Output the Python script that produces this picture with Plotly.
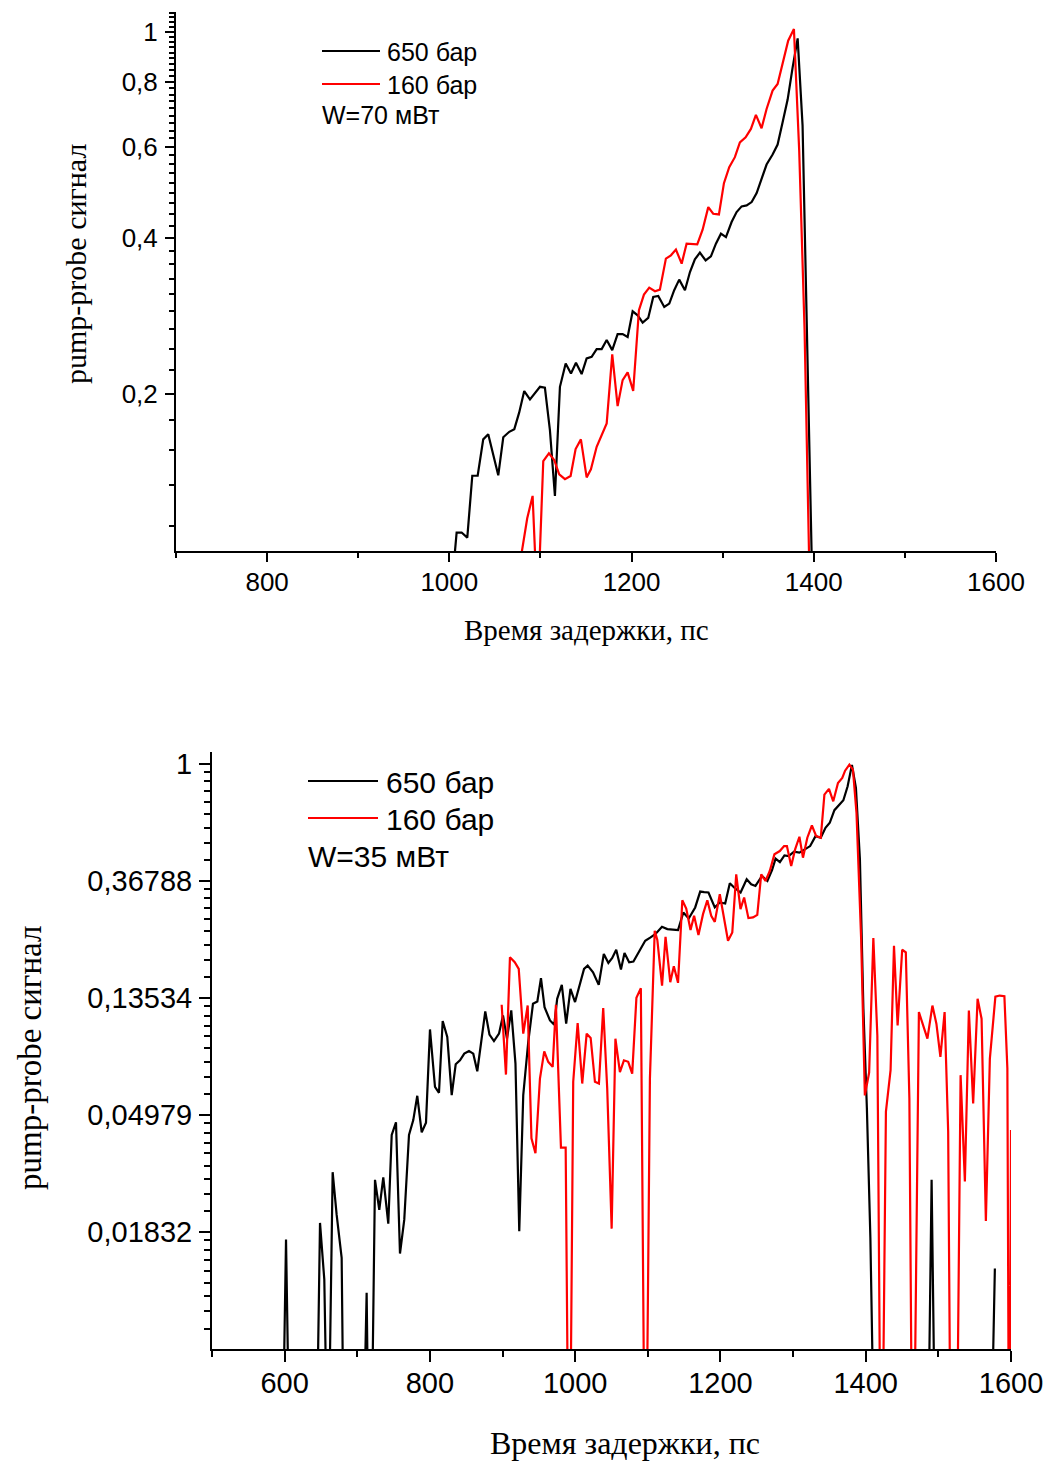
import math
import plotly.graph_objects as go

# ---------------- data: top panel (W = 70 mW) ----------------
t650_x = [1002.0, 1008.0, 1013.5, 1019.7, 1025.2, 1031.1, 1037.2, 1042.7, 1053.7, 1059.2,
          1065.8, 1071.3, 1076.7, 1082.2, 1088.5, 1094.0, 1099.5, 1104.9, 1110.4, 1115.9,
          1121.4, 1127.7, 1133.5, 1139.0, 1145.2, 1150.7, 1156.2, 1161.7, 1167.2, 1172.7,
          1178.8, 1184.7, 1190.2, 1195.7, 1201.2, 1206.7, 1212.2, 1218.3, 1223.8, 1229.3,
          1235.9, 1241.4, 1246.8, 1252.3, 1258.6, 1264.1, 1269.5, 1275.0, 1281.3, 1287.1,
          1292.6, 1298.1, 1303.6, 1309.8, 1315.3, 1320.8, 1326.3, 1331.8, 1337.3, 1342.7,
          1348.2, 1354.8, 1360.3, 1365.8, 1371.3, 1376.8, 1382.3, 1387.7, 1393.2, 1399.4]
t650_y = [0.082, 0.108, 0.108, 0.1056, 0.139, 0.139, 0.1634, 0.1671, 0.1393, 0.1649,
          0.169, 0.171, 0.1842, 0.2025, 0.1952, 0.2004, 0.2064, 0.2055, 0.1703, 0.1271,
          0.2064, 0.2289, 0.219, 0.2296, 0.2184, 0.2341, 0.2358, 0.244, 0.244, 0.254,
          0.2429, 0.2608, 0.2608, 0.2576, 0.2887, 0.2836, 0.2746, 0.2803, 0.3076, 0.309,
          0.2943, 0.2988, 0.317, 0.3323, 0.317, 0.3437, 0.3636, 0.3746, 0.362, 0.3685,
          0.3899, 0.4076, 0.4015, 0.4292, 0.4486, 0.4601, 0.4621, 0.469, 0.4881, 0.5202,
          0.5542, 0.5794, 0.6056, 0.6686, 0.7396, 0.8535, 0.9707, 0.659, 0.2325, 0.07]

t160_x = [1073.9, 1085.5, 1091.4, 1096.9, 1103.1, 1109.3, 1115.1, 1120.6, 1126.9, 1133.1,
          1138.6, 1144.4, 1150.7, 1155.4, 1161.7, 1167.2, 1172.7, 1178.8, 1184.7, 1190.2,
          1195.7, 1201.8, 1208.1, 1213.6, 1219.4, 1225.7, 1231.1, 1237.7, 1243.2, 1248.7,
          1255.0, 1260.4, 1266.6, 1272.1, 1278.0, 1284.2, 1289.6, 1295.9, 1301.4, 1307.2,
          1313.4, 1318.9, 1325.2, 1331.0, 1336.5, 1342.7, 1348.2, 1354.8, 1360.3, 1365.8,
          1371.9, 1378.2, 1384.0, 1389.9, 1395.8]
t160_y = [0.086, 0.1151, 0.1271, 0.0755, 0.1484, 0.1536, 0.1491, 0.1399, 0.1369, 0.1389,
          0.1565, 0.1634, 0.138, 0.143, 0.1581, 0.1665, 0.1754, 0.2383, 0.1894, 0.2126,
          0.22, 0.2027, 0.2901, 0.3109, 0.3207, 0.3155, 0.3179, 0.3648, 0.3702, 0.3797,
          0.3568, 0.3899, 0.3887, 0.3887, 0.4149, 0.4586, 0.4453, 0.4439, 0.5101, 0.5476,
          0.5726, 0.6117, 0.6254, 0.6492, 0.6909, 0.651, 0.7094, 0.7698, 0.7929, 0.8665,
          0.9608, 1.012, 0.5898, 0.2654, 0.08]

# ---------------- data: bottom panel (W = 35 mW) ----------------
b650_x = [596.4, 601.9, 607.4, 643.2, 648.7, 654.6, 659.7, 666.1, 671.6, 678.5,
          683.1, 707.2, 712.9, 717.5, 724.4, 730.3, 735.8, 742.7, 747.4, 753.3,
          758.8, 764.7, 771.2, 777.1, 782.6, 788.7, 794.6, 800.1, 807.0, 812.5,
          817.6, 823.9, 830.0, 835.5, 841.4, 847.3, 853.8, 859.7, 865.2, 870.3,
          876.2, 882.0, 888.2, 895.1, 900.6, 906.1, 912.0, 917.8, 923.0, 928.5,
          935.4, 941.9, 947.9, 952.9, 957.8, 965.3, 971.2, 975.2, 981.6, 987.6,
          993.5, 999.8, 1005.9, 1012.2, 1017.2, 1024.6, 1032.4, 1039.4, 1045.7, 1051.0,
          1056.5, 1063.0, 1067.9, 1074.3, 1080.2, 1089.0, 1096.4, 1103.8, 1110.6, 1119.5,
          1126.9, 1134.4, 1141.6, 1148.9, 1156.3, 1165.2, 1172.1, 1177.6, 1183.5, 1192.2,
          1199.1, 1206.5, 1212.9, 1218.8, 1227.7, 1236.1, 1242.3, 1248.2, 1257.2, 1264.6,
          1271.0, 1275.9, 1281.8, 1288.1, 1293.9, 1301.3, 1308.7, 1316.1, 1323.5, 1330.9,
          1338.1, 1344.6, 1350.5, 1356.9, 1362.8, 1369.2, 1375.1, 1381.0, 1386.5, 1392.0,
          1396.8, 1401.6, 1406.4, 1411.3, 1485.2, 1490.7, 1496.2, 1571.6, 1577.8]
b650_y = [0.002, 0.01715, 0.002, 0.002, 0.01978, 0.0122, 0.002, 0.03052, 0.02122, 0.01468,
          0.001, 0.002, 0.0109, 0.001, 0.02858, 0.02214, 0.02918, 0.01966, 0.04192, 0.0467,
          0.01523, 0.02034, 0.04192, 0.04763, 0.05862, 0.0429, 0.04659, 0.1033, 0.06329, 0.06013,
          0.111, 0.0969, 0.05895, 0.0767, 0.07936, 0.08399, 0.08595, 0.084, 0.07229, 0.09284,
          0.1204, 0.09878, 0.09348, 0.09966, 0.1164, 0.0955, 0.1215, 0.07716, 0.01843, 0.05895,
          0.09284, 0.1286, 0.1312, 0.1601, 0.125, 0.1116, 0.1075, 0.1342, 0.1512, 0.1085,
          0.1461, 0.1305, 0.1512, 0.1732, 0.1782, 0.1684, 0.1512, 0.1968, 0.1823, 0.1902,
          0.2041, 0.1722, 0.1985, 0.1834, 0.1844, 0.2041, 0.2204, 0.2269, 0.2334, 0.2483,
          0.2435, 0.2425, 0.2415, 0.2806, 0.2666, 0.2929, 0.3355, 0.3336, 0.3328, 0.2929,
          0.3055, 0.303, 0.3601, 0.3472, 0.3328, 0.3727, 0.3571, 0.352, 0.3832, 0.3672,
          0.4033, 0.4444, 0.4317, 0.4571, 0.4543, 0.4718, 0.4677, 0.481, 0.4947, 0.5386,
          0.5314, 0.5786, 0.6036, 0.6722, 0.6996, 0.7319, 0.8244, 0.99, 0.813, 0.4418,
          0.1232, 0.0526, 0.01741, 0.003, 0.002, 0.02858, 0.002, 0.002, 0.01341]

b160_x = [898.8, 904.7, 910.2, 916.8, 922.3, 928.5, 934.6, 939.8, 945.3, 951.5,
          957.4, 962.9, 969.0, 973.5, 980.4, 986.9, 991.8, 997.3, 1003.4, 1009.7,
          1015.8, 1021.3, 1027.2, 1032.7, 1038.6, 1044.1, 1050.2, 1055.4, 1061.6, 1067.1,
          1073.0, 1078.5, 1084.3, 1090.4, 1096.7, 1102.9, 1109.5, 1113.1, 1119.6, 1124.4,
          1130.9, 1135.8, 1141.6, 1147.5, 1152.9, 1158.8, 1163.7, 1169.7, 1176.0, 1181.9,
          1187.3, 1192.2, 1199.1, 1204.5, 1210.4, 1216.3, 1221.7, 1227.6, 1232.6, 1238.5,
          1244.8, 1250.7, 1256.1, 1262.0, 1267.9, 1274.3, 1281.7, 1287.6, 1291.5, 1297.4,
          1302.8, 1308.7, 1313.6, 1319.6, 1325.9, 1331.8, 1338.1, 1343.1, 1349.4, 1355.3,
          1361.8, 1367.7, 1371.6, 1377.5, 1382.4, 1387.3, 1393.7, 1398.8, 1404.7, 1410.5,
          1416.0, 1421.5, 1427.8, 1434.2, 1438.9, 1443.9, 1450.2, 1455.2, 1460.1, 1464.9,
          1473.2, 1484.9, 1491.8, 1497.3, 1502.8, 1508.6, 1513.5, 1517.9, 1524.1, 1530.6,
          1536.5, 1542.0, 1547.9, 1554.0, 1559.5, 1565.4, 1570.9, 1578.5, 1584.4, 1590.9,
          1595.0, 1597.7, 1600.0]
b160_y = [0.1275, 0.07026, 0.1913, 0.1834, 0.1732, 0.09966, 0.1267, 0.04076, 0.03587, 0.06793,
          0.0857, 0.07833, 0.07503, 0.1275, 0.03767, 0.03767, 0.001, 0.06605, 0.1091, 0.06508,
          0.09966, 0.09604, 0.06605, 0.06508, 0.124, 0.06239, 0.01884, 0.09547, 0.07178, 0.07936,
          0.07833, 0.07085, 0.1353, 0.147, 0.001, 0.068, 0.24, 0.2218, 0.1503, 0.228,
          0.1547, 0.1773, 0.1538, 0.3116, 0.2903, 0.2415, 0.2726, 0.2314, 0.2766, 0.3116,
          0.2726, 0.259, 0.328, 0.2726, 0.2204, 0.2367, 0.3887, 0.2886, 0.3189, 0.2674,
          0.269, 0.275, 0.3887, 0.3672, 0.3998, 0.4611, 0.4742, 0.4947, 0.4947, 0.4173,
          0.481, 0.5359, 0.4481, 0.5314, 0.5898, 0.5386, 0.5314, 0.768, 0.8065, 0.7254,
          0.8487, 0.8852, 0.9422, 0.9915, 0.95, 0.657, 0.2236, 0.0588, 0.0715, 0.2255,
          0.0979, 0.001, 0.0512, 0.0729, 0.2112, 0.1069, 0.2041, 0.1997, 0.0573, 0.001,
          0.1198, 0.0955, 0.1267, 0.1085, 0.0817, 0.1198, 0.0432, 0.001, 0.001, 0.0699,
          0.0282, 0.1215, 0.0549, 0.1342, 0.1132, 0.0201, 0.0805, 0.1366, 0.138, 0.1373,
          0.074, 0.001, 0.0438]

# ---------------- tick labels ----------------
top_y_ticks = [0.2, 0.4, 0.6, 0.8, 1.0]
top_y_labels = ["0,2", "0,4", "0,6", "0,8", "1"]
top_x_ticks = [800, 1000, 1200, 1400, 1600]
top_x_minor = [700, 900, 1100, 1300, 1500]

bot_y_powers = [-4, -3, -2, -1, 0]
bot_y_labels = ["0,01832", "0,04979", "0,13534", "0,36788", "1"]
bot_x_ticks = [600, 800, 1000, 1200, 1400, 1600]
bot_x_minor = [500, 700, 900, 1100, 1300, 1500]

legend_names = ["650 бар", "160 бар"]
top_note = "W=70 мВт"
bot_note = "W=35 мВт"
x_title = "Время задержки, пс"
y_title = "pump-probe сигнал"

# ---------------- layout helpers ----------------
W, H = 1048, 1465
def fx(p):
    return p / W
def fy(p):
    return 1 - p / H

SANS = "Liberation Sans, Arial, sans-serif"
SERIF = "Liberation Serif, Times New Roman, serif"
BLACK = "#000000"
RED = "#ff0000"
LW = 2.2

top_minor_y = [k * 0.2 / 9 for k in range(5, 50) if k % 9 != 0]
bot_y_ticks = [math.exp(p) for p in bot_y_powers]
bot_minor_y = []
for i in range(5):
    lo, hi = math.exp(-(i + 1)), math.exp(-i)
    for j in range(1, 9):
        bot_minor_y.append(lo + j * (hi - lo) / 9)

fig = go.Figure()
fig.add_trace(go.Scatter(x=t650_x, y=t650_y, mode="lines", line=dict(color=BLACK, width=LW),
                         xaxis="x", yaxis="y", showlegend=False, name=legend_names[0]))
fig.add_trace(go.Scatter(x=t160_x, y=t160_y, mode="lines", line=dict(color=RED, width=LW),
                         xaxis="x", yaxis="y", showlegend=False, name=legend_names[1]))
fig.add_trace(go.Scatter(x=b650_x, y=b650_y, mode="lines", line=dict(color=BLACK, width=LW),
                         xaxis="x2", yaxis="y2", showlegend=False, name=legend_names[0]))
fig.add_trace(go.Scatter(x=b160_x, y=b160_y, mode="lines", line=dict(color=RED, width=LW),
                         xaxis="x2", yaxis="y2", showlegend=False, name=legend_names[1]))

axis_common = dict(showline=True, linecolor=BLACK, linewidth=2, showgrid=False, zeroline=False,
                   ticks="outside", tickcolor=BLACK, tickwidth=2, mirror=False, automargin=False)

fig.update_layout(
    template="none",
    width=W, height=H, autosize=False,
    margin=dict(l=0, r=0, t=0, b=0, pad=0, autoexpand=False),
    paper_bgcolor="white", plot_bgcolor="white", showlegend=False,
    xaxis=dict(domain=[fx(176), fx(996)], anchor="y", range=[700, 1600],
               tickmode="array", tickvals=top_x_ticks, ticklen=9,
               tickfont=dict(family=SANS, size=26, color=BLACK), ticklabelstandoff=-2,
               minor=dict(tickvals=top_x_minor, ticklen=5, tickwidth=2, tickcolor=BLACK, ticks="outside"),
               **axis_common),
    yaxis=dict(domain=[fy(551), fy(12)], anchor="x", type="log",
               range=[math.log10(0.0995), 0.038],
               tickmode="array", tickvals=top_y_ticks, ticktext=top_y_labels, ticklen=9,
               tickfont=dict(family=SANS, size=26, color=BLACK), ticklabelstandoff=2,
               minor=dict(tickvals=top_minor_y, ticklen=5, tickwidth=2, tickcolor=BLACK, ticks="outside"),
               **axis_common),
    xaxis2=dict(domain=[fx(212), fx(1011)], anchor="y2", range=[500, 1600],
                tickmode="array", tickvals=bot_x_ticks, ticklen=11,
                tickfont=dict(family=SANS, size=29, color=BLACK), ticklabelstandoff=-4,
                minor=dict(tickvals=bot_x_minor, ticklen=6, tickwidth=2, tickcolor=BLACK, ticks="outside"),
                **axis_common),
    yaxis2=dict(domain=[fy(1349), fy(752)], anchor="x2", type="log",
                range=[-5 / math.log(10), 0.1 / math.log(10)],
                tickmode="array", tickvals=bot_y_ticks, ticktext=bot_y_labels, ticklen=11,
                tickfont=dict(family=SANS, size=29, color=BLACK), ticklabelstandoff=1,
                minor=dict(tickvals=bot_minor_y, ticklen=6, tickwidth=2, tickcolor=BLACK, ticks="outside"),
                **axis_common),
)

ann = []
# axis titles
ann.append(dict(text=x_title, x=fx(586), y=fy(630), xref="paper", yref="paper", showarrow=False,
                xanchor="center", yanchor="middle", font=dict(family=SERIF, size=29, color=BLACK)))
ann.append(dict(text=y_title, x=fx(75), y=fy(264), xref="paper", yref="paper", showarrow=False,
                textangle=-90, xanchor="center", yanchor="middle", font=dict(family=SERIF, size=30, color=BLACK)))
ann.append(dict(text=x_title, x=fx(625), y=fy(1443), xref="paper", yref="paper", showarrow=False,
                xanchor="center", yanchor="middle", font=dict(family=SERIF, size=32, color=BLACK)))
ann.append(dict(text=y_title, x=fx(30), y=fy(1058), xref="paper", yref="paper", showarrow=False,
                textangle=-90, xanchor="center", yanchor="middle", font=dict(family=SERIF, size=33, color=BLACK)))

shapes = []
# legend, top panel
for name, col, yy in [(legend_names[0], BLACK, 51), (legend_names[1], RED, 84)]:
    shapes.append(dict(type="line", xref="paper", yref="paper", x0=fx(322), x1=fx(380), y0=fy(yy), y1=fy(yy),
                       line=dict(color=col, width=LW)))
    ann.append(dict(text=name, x=fx(385), y=fy(yy + 1), xref="paper", yref="paper", showarrow=False,
                    xanchor="left", yanchor="middle", font=dict(family=SANS, size=25, color=BLACK)))
ann.append(dict(text=top_note, x=fx(320), y=fy(115), xref="paper", yref="paper", showarrow=False,
                xanchor="left", yanchor="middle", font=dict(family=SANS, size=25, color=BLACK)))
# legend, bottom panel
for name, col, yy in [(legend_names[0], BLACK, 781), (legend_names[1], RED, 818)]:
    shapes.append(dict(type="line", xref="paper", yref="paper", x0=fx(308), x1=fx(378), y0=fy(yy), y1=fy(yy),
                       line=dict(color=col, width=LW)))
    ann.append(dict(text=name, x=fx(384), y=fy(yy + 1), xref="paper", yref="paper", showarrow=False,
                    xanchor="left", yanchor="middle", font=dict(family=SANS, size=30, color=BLACK)))
ann.append(dict(text=bot_note, x=fx(306), y=fy(857), xref="paper", yref="paper", showarrow=False,
                xanchor="left", yanchor="middle", font=dict(family=SANS, size=30, color=BLACK)))

fig.update_layout(annotations=ann, shapes=shapes)

fig.write_html("out.html", config={"responsive": False, "displayModeBar": False})
